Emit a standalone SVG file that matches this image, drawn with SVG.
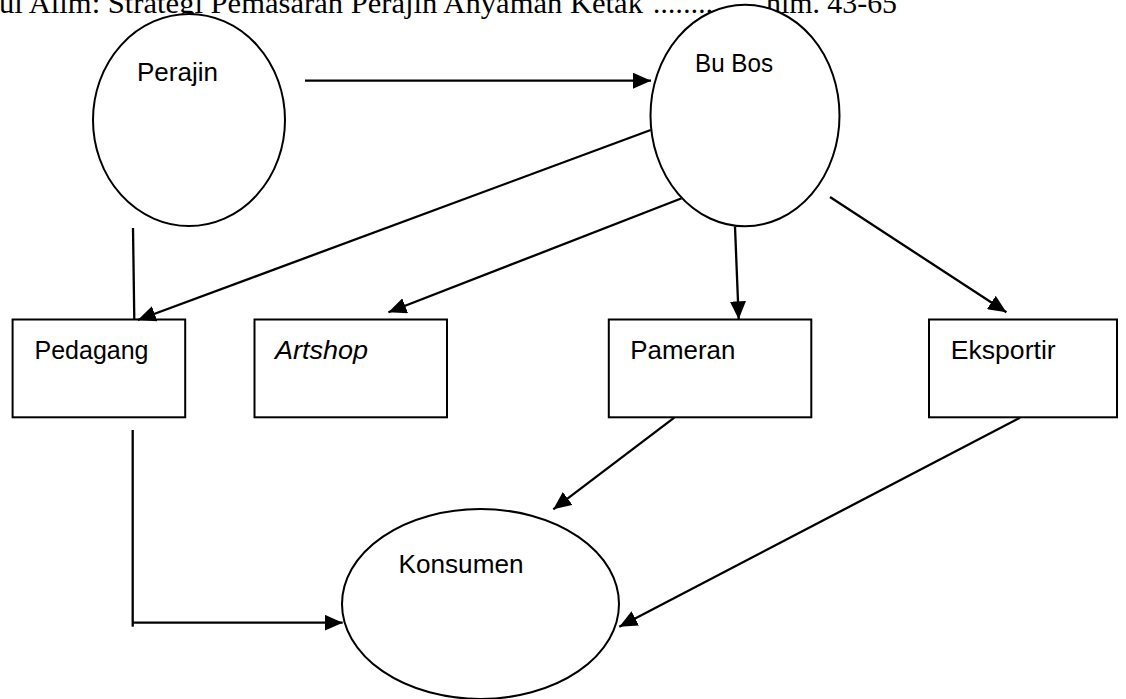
<svg xmlns="http://www.w3.org/2000/svg" width="1126" height="699" viewBox="0 0 1126 699">
<style>
.hdr{font-family:"Liberation Serif","Times New Roman",serif;font-size:29px;fill:#000}
.lbl{font-family:"Liberation Sans",Arial,sans-serif;font-size:26.5px;fill:#000}
.shape{fill:#fff;stroke:#000;stroke-width:2}
.con{fill:none;stroke:#000;stroke-width:2.3}
</style>
<defs>
<marker id="ah" markerWidth="18" markerHeight="16" refX="18" refY="8" orient="auto" markerUnits="userSpaceOnUse">
<path d="M0,0 L18,8 L0,16 Z" fill="#000"/>
</marker>
</defs>
<rect width="1126" height="699" fill="#fff"/>
<g id="header">
<text class="hdr" x="-1" y="13" textLength="644" lengthAdjust="spacingAndGlyphs">ul Alim: Strategi Pemasaran Perajin Anyaman Ketak</text>
<text class="hdr" x="653" y="13" textLength="60" lengthAdjust="spacing">........</text>
<text class="hdr" x="766" y="13" textLength="131" lengthAdjust="spacingAndGlyphs">hlm. 43-65</text>
</g>
<g id="perajin">
<ellipse class="shape" cx="189" cy="120" rx="96" ry="106"/>
<text class="lbl" x="137" y="81" textLength="81" lengthAdjust="spacingAndGlyphs">Perajin</text>
</g>
<g id="bubos">
<ellipse class="shape" cx="745" cy="115.5" rx="94.5" ry="110.8"/>
<text class="lbl" x="695" y="72" textLength="78" lengthAdjust="spacingAndGlyphs">Bu Bos</text>
</g>
<g id="pedagang">
<rect class="shape" x="12.6" y="319.5" width="172.6" height="97.8"/>
<text class="lbl" x="34.5" y="359" textLength="114" lengthAdjust="spacingAndGlyphs">Pedagang</text>
</g>
<g id="artshop">
<rect class="shape" x="254.5" y="319.5" width="192.5" height="97.8"/>
<text class="lbl" x="275" y="359" font-style="italic" textLength="93" lengthAdjust="spacingAndGlyphs">Artshop</text>
</g>
<g id="pameran">
<rect class="shape" x="608.8" y="319.5" width="202.5" height="97.8"/>
<text class="lbl" x="630.3" y="358.5" textLength="105" lengthAdjust="spacingAndGlyphs">Pameran</text>
</g>
<g id="eksportir">
<rect class="shape" x="929" y="319.5" width="188" height="97.8"/>
<text class="lbl" x="950.7" y="358.5" textLength="105" lengthAdjust="spacingAndGlyphs">Eksportir</text>
</g>
<g id="konsumen">
<ellipse class="shape" cx="480.5" cy="604" rx="138.5" ry="95"/>
<text class="lbl" x="398.5" y="573" textLength="125" lengthAdjust="spacingAndGlyphs">Konsumen</text>
</g>
<g id="connectors">
<line class="con" x1="305" y1="80.7" x2="651" y2="80.7" marker-end="url(#ah)"/>
<line class="con" x1="133" y1="228" x2="134.3" y2="319.5" stroke-width="1.7"/>
<line class="con" x1="650.7" y1="130" x2="137.8" y2="320" marker-end="url(#ah)"/>
<line class="con" x1="681.7" y1="198.3" x2="388.4" y2="312.3" marker-end="url(#ah)"/>
<line class="con" x1="735" y1="226.7" x2="738.7" y2="319.3" marker-end="url(#ah)"/>
<line class="con" x1="830" y1="197" x2="1006.4" y2="312.3" marker-end="url(#ah)"/>
<line class="con" x1="674.3" y1="417.7" x2="553.3" y2="509.3" marker-end="url(#ah)"/>
<line class="con" x1="1020" y1="417.7" x2="619.3" y2="626.7" marker-end="url(#ah)"/>
<polyline class="con" points="132.7,430 132.7,626.7"/>
<line class="con" x1="132.7" y1="622.7" x2="342.7" y2="622.7" marker-end="url(#ah)"/>
</g>
</svg>
